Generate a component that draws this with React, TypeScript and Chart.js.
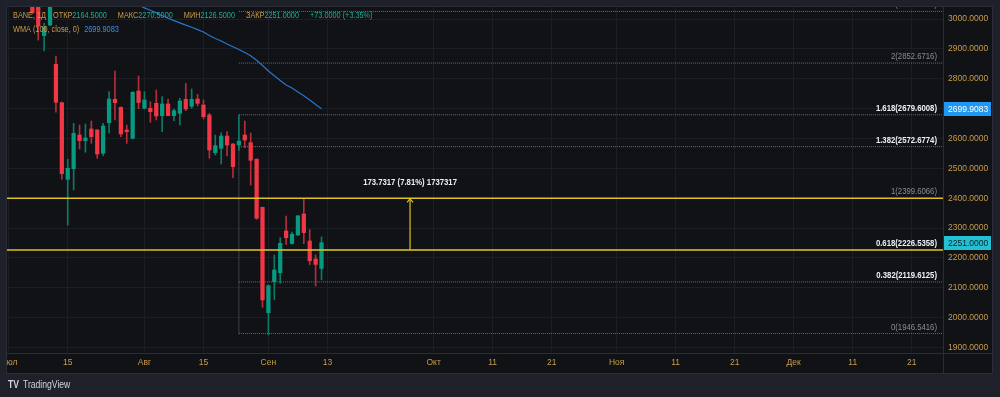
import React, { useEffect, useRef } from 'react';
import { Chart, registerables } from 'chart.js';

Chart.register(...registerables);

// ---------------- data ----------------
const barIndex = [
  0, 1, 2, 3, 4, 5, 6, 7, 8, 9, 10, 11, 12, 13, 14, 15, 16, 17, 18, 19, 20, 21, 22, 23, 24,
  25, 26, 27, 28, 29, 30, 31, 32, 33, 34, 35, 36, 37, 38, 39, 40, 41, 42, 43, 44, 45, 46, 47, 48, 49,
];
const openPrices = [
  3065, 3050, 2944.7, 2980, 2848.6, 2719.9, 2463.3, 2498.8, 2611.7, 2592.6,
  2631.8, 2628.5, 2550.4, 2652.9, 2731.3, 2704.5, 2628.5, 2600.7, 2759.1, 2701.2,
  2701.2, 2717.9, 2676.4, 2715.6, 2676.4, 2684.4, 2731.3, 2707.9, 2732.3, 2712.2,
  2678.7, 2552.4, 2567.2, 2608.4, 2581.6, 2578.2, 2611.7, 2585.9, 2530.7, 2369.5,
  2016.4, 2120.3, 2150.4, 2290.1, 2248.2, 2276.7, 2347.1, 2256.6, 2196.3, 2164.5,
];
const highPrices = [
  3075, 3058, 2986, 3060, 2876.4, 2722, 2530.3, 2650.9, 2645.2, 2648.6,
  2658.6, 2630, 2650.9, 2756.8, 2826.1, 2706, 2645.2, 2756.8, 2809.4, 2756.8,
  2723.3, 2762.5, 2740, 2732.3, 2698.8, 2734.7, 2784.9, 2765.8, 2748.1, 2729,
  2684.4, 2611.7, 2619.4, 2622.8, 2583, 2678.7, 2658.6, 2618.4, 2532, 2370.5,
  2109.2, 2209.7, 2267.7, 2340.4, 2286.8, 2342, 2399.6, 2294.5, 2209.7, 2270.5,
];
const lowPrices = [
  3018, 2929.6, 2893.5, 2978, 2687.8, 2463.3, 2310.2, 2427.5, 2564.8, 2553.8,
  2583.9, 2533.7, 2542.4, 2618.4, 2662, 2606, 2583.9, 2598.3, 2699.8, 2698.8,
  2654.3, 2662, 2622.8, 2675.4, 2659.6, 2645.2, 2693.1, 2701.2, 2708.9, 2665.3,
  2533.7, 2544.7, 2514.6, 2541.4, 2468.7, 2559.8, 2569.2, 2444.2, 2329.3, 2034.5,
  1942, 2060.6, 2114.9, 2244.9, 2245.9, 2275, 2247.6, 2177.2, 2105.9, 2126.5,
];
const closePrices = [
  3021.4, 2976.6, 2972.9, 3050, 2721.3, 2482.1, 2500.2, 2617.4, 2592.6, 2601.7,
  2606, 2548.1, 2641.9, 2732.3, 2719.9, 2615.1, 2622.8, 2754.8, 2720.6, 2729,
  2689.8, 2675.4, 2715.6, 2676.4, 2693.1, 2725.6, 2698.8, 2731.3, 2717.9, 2673,
  2561.5, 2575.9, 2608.4, 2578.2, 2505.5, 2591.6, 2595, 2527, 2332.7, 2059,
  2106.9, 2159.5, 2248.9, 2267.7, 2279.1, 2341, 2284.4, 2190.3, 2178, 2251,
];

const wmaIndex = [
  18, 19, 20, 21, 22, 23, 24, 25, 26, 27, 28, 29, 30, 31, 32, 33,
  34, 35, 36, 37, 38, 39, 40, 41, 42, 43, 44, 45, 46, 47, 48, 49,
];
const wmaValues = [
  3046.6, 3037.5, 3029.8, 3020.8, 3012.0, 3003.0, 2995.0, 2987.3, 2979.9, 2972.5, 2964.8, 2956.8,
  2945.0, 2935.0, 2926.6, 2916.6, 2907.2, 2898.1, 2888.1, 2877.4, 2862.0, 2844.5, 2826.1, 2810.0,
  2794.3, 2779.2, 2769.2, 2755.8, 2743.4, 2729.0, 2713.9, 2699.9083,
];

const priceTicks = [1900, 2000, 2100, 2200, 2300, 2400, 2500, 2600, 2700, 2800, 2900, 3000];
const timeTickIndex = [-4, 6, 19, 29, 40, 50, 68, 78, 88, 99, 109, 119, 129, 139, 149];
const timeTickLabels = ['Июл', '15', 'Авг', '15', 'Сен', '13', 'Окт', '11', '21', 'Ноя', '11', '21', 'Дек', '11', '21'];

const fibRatios = ['0', '0.382', '0.618', '1', '1.382', '1.618', '2', '2.382'];
const fibPrices = [1946.5416, 2119.6125, 2226.5358, 2399.6066, 2572.6774, 2679.6008, 2852.6716, 3025.7424];
const fibStartIndex = 35;

const horizontalLevels = [2399.6066, 2226.5358];
const measureIndex = 64;
const measureFrom = 2226.5358;
const measureTo = 2399.6066;
const measureText = '173.7317 (7.81%) 1737317';

const symbolLabel = 'BANE, 1Д';
const ohlcNames = ['ОТКР', 'МАКС', 'МИН', 'ЗАКР'];
const wmaLabel = 'WMA (100, close, 0)';

const xView = [-4.29, 154.3];
const yView = [1881.4, 3040.5];

// ---------------- styles ----------------
const FONT = "'Liberation Sans', Arial, sans-serif";
const OUTER_BG = '#1e2129';
const PANE_BG = '#101216';
const FRAME = '#2a2d36';
const GRID = '#1b1e25';
const GOLD = '#c99d4b';
const UP = '#089981';
const DOWN = '#f23645';
const UP_WICK = '#0b7a67';
const DOWN_WICK = '#b52d3a';
const WMA_COLOR = '#2a75c9';
const WMA_TAG = '#2196f3';
const CLOSE_TAG = '#22c0d2';
const LEGEND_GREEN = '#22ab94';
const FIB_LINE = '#6b6e77';
const FIB_WHITE = '#eceff4';
const FIB_GRAY = '#8a8d96';
const YELLOW = '#dcc21d';
const NARROW_X = 0.86;
const fibLabelStrong = [false, true, true, false, true, true, false, false];

function drawNarrow(ctx: CanvasRenderingContext2D, text: string, x: number, y: number, align: CanvasTextAlign) {
  ctx.save();
  ctx.translate(x, y);
  ctx.scale(NARROW_X, 1);
  ctx.textAlign = align;
  ctx.fillText(text, 0, 0);
  ctx.restore();
  return ctx.measureText(text).width * NARROW_X;
}

const tvPlugin = {
  id: 'tvDecor',
  beforeDraw(chart: any) {
    const { ctx, chartArea } = chart;
    const ys = chart.scales.y;
    const xs = chart.scales.x;
    ctx.save();
    ctx.fillStyle = OUTER_BG;
    ctx.fillRect(0, 0, chart.width, chart.height);
    ctx.fillStyle = PANE_BG;
    ctx.fillRect(chartArea.left, chartArea.top, ys.right - chartArea.left, xs.bottom - chartArea.top);
    ctx.restore();
  },
  afterDatasetsDraw(chart: any) {
    const { ctx, chartArea } = chart;
    const ys = chart.scales.y;
    const xs = chart.scales.x;
    ctx.save();
    ctx.beginPath();
    ctx.rect(chartArea.left, chartArea.top, chartArea.right - chartArea.left, chartArea.bottom - chartArea.top);
    ctx.clip();
    // fib labels
    ctx.textBaseline = 'bottom';
    fibPrices.forEach((p, k) => {
      const y = ys.getPixelForValue(p);
      const strong = fibLabelStrong[k];
      ctx.font = `${strong ? 'bold ' : ''}9px ${FONT}`;
      ctx.fillStyle = strong ? FIB_WHITE : FIB_GRAY;
      drawNarrow(ctx, `${fibRatios[k]}(${p.toFixed(4)})`, chartArea.right - 6, y - 2, 'right');
    });
    // measure arrow head + text
    const mx = xs.getPixelForValue(measureIndex);
    const myTop = ys.getPixelForValue(measureTo);
    ctx.strokeStyle = YELLOW;
    ctx.lineWidth = 1.2;
    ctx.beginPath();
    ctx.moveTo(mx - 3, myTop + 4);
    ctx.lineTo(mx, myTop + 0.5);
    ctx.lineTo(mx + 3, myTop + 4);
    ctx.stroke();
    ctx.font = `bold 9px ${FONT}`;
    ctx.fillStyle = FIB_WHITE;
    ctx.textBaseline = 'middle';
    drawNarrow(ctx, measureText, mx, myTop - 16, 'center');
    ctx.restore();
  },
  afterDraw(chart: any) {
    const { ctx, chartArea } = chart;
    const ys = chart.scales.y;
    const xs = chart.scales.x;
    const L = chartArea.left;
    const T = chartArea.top;
    const R = ys.right;
    const B = xs.bottom;
    ctx.save();
    // cover outside of frame
    ctx.fillStyle = OUTER_BG;
    ctx.fillRect(0, 0, L, chart.height);
    ctx.fillRect(R, 0, chart.width - R, chart.height);
    ctx.fillRect(0, 0, chart.width, T);
    ctx.fillRect(0, B, chart.width, chart.height - B);
    // frame + separators
    ctx.strokeStyle = FRAME;
    ctx.lineWidth = 1;
    ctx.strokeRect(L - 0.5, T - 0.5, R - L + 1, B - T + 1);
    ctx.beginPath();
    ctx.moveTo(chartArea.right + 0.5, T);
    ctx.lineTo(chartArea.right + 0.5, B);
    ctx.moveTo(L, chartArea.bottom + 0.5);
    ctx.lineTo(R, chartArea.bottom + 0.5);
    ctx.stroke();

    // price tags
    const tag = (value: number, bg: string, fg: string) => {
      const y = Math.round(ys.getPixelForValue(value));
      ctx.fillStyle = bg;
      ctx.fillRect(ys.left + 1, y - 7, 47, 14);
      ctx.fillStyle = fg;
      ctx.font = `8.5px ${FONT}`;
      ctx.textAlign = 'left';
      ctx.textBaseline = 'middle';
      ctx.fillText(value.toFixed(4), ys.left + 5, y + 0.5);
    };
    tag(wmaValues[wmaValues.length - 1], WMA_TAG, '#ffffff');
    const last = closePrices.length - 1;
    tag(closePrices[last], CLOSE_TAG, '#102028');

    // legend
    ctx.font = `8.5px ${FONT}`;
    ctx.textBaseline = 'middle';
    let x = L + 6;
    let y = 16;
    const put = (t: string, c: string) => {
      ctx.fillStyle = c;
      x += drawNarrow(ctx, t, x, y, 'left');
    };
    put(symbolLabel, GOLD);
    x += 7;
    const ohlc = [openPrices[last], highPrices[last], lowPrices[last], closePrices[last]];
    ohlc.forEach((v, k) => {
      put(ohlcNames[k], GOLD);
      put(v.toFixed(4), LEGEND_GREEN);
      x += 11;
    });
    const chg = closePrices[last] - closePrices[last - 1];
    const pct = (chg / closePrices[last - 1]) * 100;
    put(`${chg >= 0 ? '+' : ''}${chg.toFixed(4)} (${chg >= 0 ? '+' : ''}${pct.toFixed(2)}%)`, LEGEND_GREEN);
    x = L + 6;
    y = 29.5;
    put(wmaLabel, GOLD);
    x += 5;
    put(wmaValues[wmaValues.length - 1].toFixed(4), '#3a90e6');

    // logo
    ctx.fillStyle = '#d1d4dc';
    ctx.font = `bold 10px ${FONT}`;
    ctx.textBaseline = 'middle';
    x = 8;
    y = 385;
    put('TV', '#d1d4dc');
    ctx.font = `10px ${FONT}`;
    x = 23;
    put('TradingView', '#d1d4dc');
    ctx.restore();
  },
};

export default function App() {
  const canvasRef = useRef<HTMLCanvasElement | null>(null);

  useEffect(() => {
    const canvas = canvasRef.current;
    if (!canvas) return;
    const bodyColors = closePrices.map((c, k) => (c >= openPrices[k] ? UP : DOWN));
    const wickColors = closePrices.map((c, k) => (c >= openPrices[k] ? UP_WICK : DOWN_WICK));

    const fibDatasets = fibPrices.map((p) => ({
      type: 'line' as const,
      data: [
        { x: fibStartIndex, y: p },
        { x: xView[1], y: p },
      ],
      borderColor: FIB_LINE,
      borderWidth: 1,
      borderDash: [1, 1],
      pointRadius: 0,
      order: 6,
    }));
    const yellowDatasets = horizontalLevels.map((p) => ({
      type: 'line' as const,
      data: [
        { x: xView[0], y: p },
        { x: xView[1], y: p },
      ],
      borderColor: YELLOW,
      borderWidth: 1.5,
      pointRadius: 0,
      order: 1,
    }));

    const chart = new Chart(canvas, {
      type: 'bar',
      data: {
        datasets: [
          ...fibDatasets,
          {
            type: 'line',
            data: [
              { x: fibStartIndex, y: fibPrices[0] },
              { x: fibStartIndex, y: fibPrices[5] },
            ],
            borderColor: FIB_LINE,
            borderWidth: 1,
            borderDash: [1, 1],
            pointRadius: 0,
            order: 6,
          },
          {
            type: 'bar',
            data: barIndex.map((x, k) => ({ x, y: [lowPrices[k], highPrices[k]] })),
            backgroundColor: wickColors,
            barThickness: 1,
            grouped: false,
            order: 4,
          },
          {
            type: 'bar',
            data: barIndex.map((x, k) => ({ x, y: [openPrices[k], closePrices[k]] })),
            backgroundColor: bodyColors,
            barThickness: 3.6,
            minBarLength: 1,
            grouped: false,
            order: 3,
          },
          {
            type: 'line',
            data: wmaIndex.map((x, k) => ({ x, y: wmaValues[k] })),
            borderColor: WMA_COLOR,
            borderWidth: 1.2,
            pointRadius: 0,
            order: 2,
          },
          ...yellowDatasets,
          {
            type: 'line',
            data: [
              { x: measureIndex, y: measureFrom },
              { x: measureIndex, y: measureTo },
            ],
            borderColor: YELLOW,
            borderWidth: 1.2,
            pointRadius: 0,
            order: 0,
          },
        ] as any,
      },
      options: {
        responsive: false,
        animation: false,
        devicePixelRatio: 1,
        events: [],
        layout: { padding: { top: 7, left: 7, right: 8, bottom: 24 } },
        plugins: {
          legend: { display: false },
          tooltip: { enabled: false },
          title: { display: false },
        },
        scales: {
          x: {
            type: 'linear',
            min: xView[0],
            max: xView[1],
            offset: false,
            grid: { color: GRID, lineWidth: 1, drawTicks: false, offset: false },
            border: { display: false },
            ticks: {
              autoSkip: false,
              maxRotation: 0,
              padding: 5,
              color: GOLD,
              font: { family: FONT, size: 8.5 },
              callback: (_v: any, k: number) => timeTickLabels[k] ?? '',
            },
            afterBuildTicks: (s: any) => {
              s.ticks = timeTickIndex.map((v) => ({ value: v }));
            },
            afterFit: (s: any) => {
              s.height = 20;
              s.paddingLeft = 0;
              s.paddingRight = 0;
              s.paddingTop = 0;
              s.paddingBottom = 0;
            },
          },
          y: {
            type: 'linear',
            position: 'right',
            min: yView[0],
            max: yView[1],
            grid: { color: GRID, lineWidth: 1, drawTicks: false },
            border: { display: false },
            ticks: {
              padding: 5,
              color: GOLD,
              font: { family: FONT, size: 8.5 },
              callback: (v: any) => Number(v).toFixed(4),
            },
            afterBuildTicks: (s: any) => {
              s.ticks = priceTicks.map((v) => ({ value: v }));
            },
            afterFit: (s: any) => {
              s.width = 49;
              s.paddingLeft = 0;
              s.paddingRight = 0;
              s.paddingTop = 0;
              s.paddingBottom = 0;
            },
          },
        },
      } as any,
      plugins: [tvPlugin],
    });
    return () => chart.destroy();
  }, []);

  return (
    <div style={{ position: 'absolute', left: 0, top: 0, width: 1000, height: 397, background: OUTER_BG }}>
      <canvas ref={canvasRef} width={1000} height={397} style={{ width: 1000, height: 397, display: 'block' }} />
    </div>
  );
}
